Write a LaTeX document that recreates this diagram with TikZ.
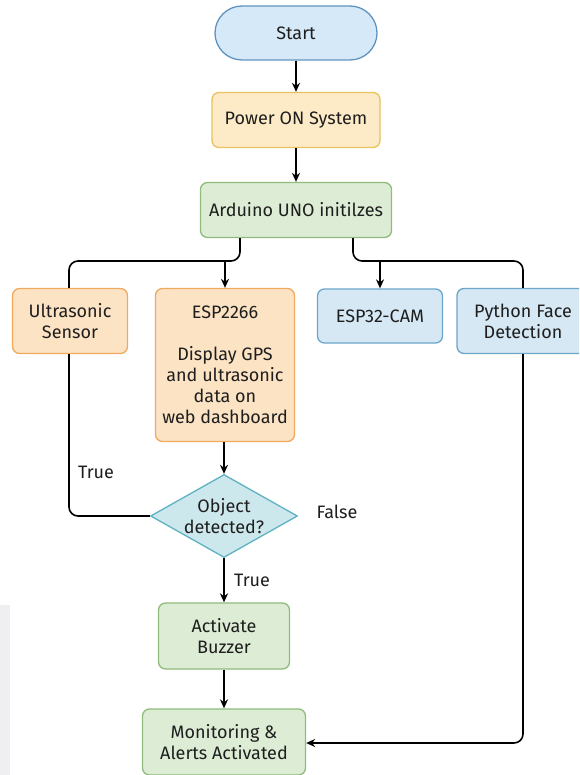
\documentclass[tikz,border=0pt]{standalone}
\usepackage{fontspec}
\setmainfont{Fira Sans}
\usetikzlibrary{shapes.geometric,arrows.meta}
\definecolor{startfill}{HTML}{D6E9F8}
\definecolor{startdraw}{HTML}{5F93BE}
\definecolor{yelfill}{HTML}{FDEBC8}
\definecolor{yeldraw}{HTML}{E9C25F}
\definecolor{grnfill}{HTML}{DDEDD5}
\definecolor{grndraw}{HTML}{8FBB7C}
\definecolor{orgfill}{HTML}{FCE3C4}
\definecolor{orgdraw}{HTML}{F0A95E}
\definecolor{bluefill}{HTML}{D5E8F4}
\definecolor{bluedraw}{HTML}{6CA6C9}
\definecolor{decfill}{HTML}{CDE8EC}
\definecolor{decdraw}{HTML}{5DB1C1}
\definecolor{txt}{HTML}{1E1E1E}
\definecolor{sidegray}{HTML}{EFEEF1}
\begin{document}
\begin{tikzpicture}[x=1pt,y=-1pt,
  font=\fontsize{18}{21}\selectfont, text=txt,
  box/.style={draw, line width=1.3pt, rounded corners=7pt, inner sep=0pt, align=center},
  startbox/.style={box, fill=startfill, draw=startdraw, rounded corners=27pt},
  yelbox/.style={box, fill=yelfill, draw=yeldraw},
  grnbox/.style={box, fill=grnfill, draw=grndraw},
  orgbox/.style={box, fill=orgfill, draw=orgdraw},
  bluebox/.style={box, fill=bluefill, draw=bluedraw},
  decision/.style={diamond, draw=decdraw, fill=decfill, line width=1.3pt, inner sep=0pt, aspect=1.77, minimum width=147pt, minimum height=83pt, align=center},
  conn/.style={draw=black, line width=1.6pt, rounded corners=9pt},
  arr/.style={conn, -{Stealth[length=9pt,width=8pt]}},
  lbl/.style={inner sep=0pt}
]
\useasboundingbox (0,0) rectangle (579,775);
\clip (0,0) rectangle (579,775);
\fill[sidegray] (0,605) rectangle (10,775);

\node[startbox, minimum width=162pt, minimum height=54pt] (start) at (296,33) {Start};
\node[yelbox, minimum width=168pt, minimum height=55pt] (power) at (296,120) {Power ON System};
\node[grnbox, minimum width=191pt, minimum height=55pt] (ard) at (296,210) {Arduino UNO initilzes};
\node[orgbox, minimum width=115pt, minimum height=65pt] (ultra) at (70,321) {Ultrasonic\\Sensor};
\node[orgbox, minimum width=139pt, minimum height=153pt] (esp) at (225,365) {ESP2266\\[21pt]Display GPS\\and ultrasonic\\data on\\web dashboard};
\node[bluebox, minimum width=125pt, minimum height=54pt] (cam) at (380,316) {ESP32-CAM};
\node[bluebox, minimum width=132pt, minimum height=65pt] (py) at (523,321) {Python Face\\Detection};
\node[decision] (obj) at (224,516) {Object\\detected?};
\node[grnbox, minimum width=131pt, minimum height=66pt] (buzz) at (224,636) {Activate\\Buzzer};
\node[grnbox, minimum width=163pt, minimum height=66pt] (mon) at (224,742) {Monitoring \&\\Alerts Activated};

\node[lbl] (ltrue1) at (96,472) {True};
\node[lbl] (lfalse) at (337,512) {False};
\node[lbl] (ltrue2) at (252,580) {True};

\coordinate (jl) at (225,261);
\coordinate (jr) at (380,261);

\draw[arr] (start) -- (power);
\draw[arr] (power) -- (ard);
\draw[conn] (ard.south -| 240,0) -- (240,261) -- (69,261) -- (ultra.north -| 69,0);
\draw[arr] (jl) -- (esp.north -| jl);
\draw[conn] (ard.south -| 353,0) -- (353,261) -- (523,261) -- (py.north -| 523,0);
\draw[arr] (jr) -- (cam.north -| jr);
\draw[conn] (ultra.south -| 69,0) -- (69,516) -- (obj.west);
\draw[arr] (esp.south -| obj.north) -- (obj.north);
\draw[arr] (obj) -- (buzz);
\draw[arr] (buzz) -- (mon);
\draw[arr] (py.south -| 523,0) -- (523,743) -- (mon.east |- 0,743);
\end{tikzpicture}
\end{document}
